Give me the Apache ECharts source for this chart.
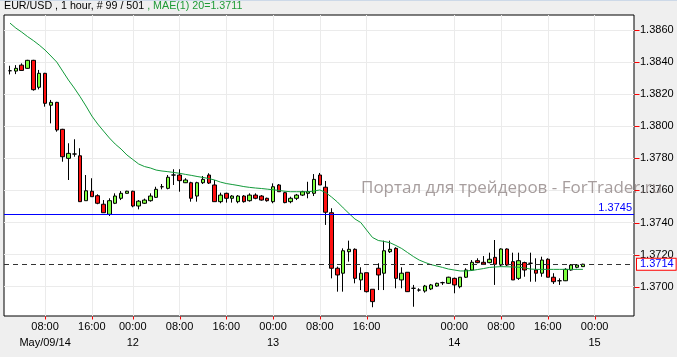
<!DOCTYPE html>
<html>
<head>
<meta charset="utf-8">
<script src="https://cdn.jsdelivr.net/npm/echarts@6/dist/echarts.min.js"></script>
<style>
html,body{margin:0;padding:0;background:#efefef;}
#chart{width:677px;height:357px;}
</style>
</head>
<body>
<div id="chart"></div>
<script>
// ---- data ----
var opens = [1.38346,1.38344,1.38381,1.38361,1.38411,1.38243,1.38330,1.38131,1.38149,1.37981,
1.37800,1.37827,1.37816,1.37536,1.37595,1.37567,1.37514,1.37451,1.37520,1.37551,
1.37582,1.37595,1.37503,1.37520,1.37536,1.37557,1.37623,1.37613,1.37696,1.37696,
1.37648,1.37648,1.37565,1.37648,1.37696,1.37634,1.37530,1.37582,1.37551,1.37530,
1.37565,1.37536,1.37571,1.37565,1.37551,1.37530,1.37634,1.37586,1.37530,1.37551,
1.37571,1.37582,1.37582,1.37696,1.37620,1.37461,1.37115,1.37084,1.37218,1.37233,
1.37042,1.37087,1.36984,1.37115,1.37084,1.37218,1.37239,1.37042,1.37090,1.36990,
1.36979,1.36973,1.36986,1.37004,1.37025,1.37021,1.37052,1.37000,1.37059,1.37104,
1.37162,1.37152,1.37150,1.37183,1.37135,1.37235,1.37156,1.37052,1.37150,1.37146,
1.37104,1.37084,1.37171,1.37059,1.37037,1.37037,1.37104,1.37121,1.37125];
var closes = [1.38346,1.38361,1.38348,1.38411,1.38228,1.38330,1.38143,1.38149,1.37977,1.37810,
1.37831,1.37827,1.37530,1.37598,1.37561,1.37520,1.37461,1.37536,1.37565,1.37582,
1.37595,1.37503,1.37533,1.37540,1.37565,1.37607,1.37623,1.37682,1.37696,1.37661,
1.37665,1.37551,1.37648,1.37669,1.37646,1.37530,1.37571,1.37551,1.37565,1.37565,
1.37530,1.37571,1.37551,1.37540,1.37536,1.37623,1.37592,1.37524,1.37551,1.37571,
1.37592,1.37592,1.37669,1.37634,1.37464,1.37115,1.37073,1.37224,1.37233,1.37052,
1.37084,1.36969,1.36907,1.37073,1.37224,1.37233,1.37052,1.37084,1.36969,1.36990,
1.36979,1.37004,1.37011,1.37021,1.37025,1.37059,1.37011,1.37059,1.37104,1.37152,
1.37150,1.37141,1.37171,1.37140,1.37235,1.37135,1.37042,1.37162,1.37104,1.37146,
1.37084,1.37166,1.37059,1.37031,1.37037,1.37108,1.37135,1.37135,1.37140];
var lows = [1.38323,1.38325,1.38348,1.38358,1.38222,1.38230,1.38122,1.38018,1.37966,1.37779,
1.37665,1.37810,1.37530,1.37536,1.37561,1.37514,1.37461,1.37441,1.37515,1.37540,
1.37580,1.37495,1.37482,1.37516,1.37530,1.37553,1.37607,1.37607,1.37634,1.37592,
1.37646,1.37530,1.37530,1.37640,1.37640,1.37530,1.37520,1.37524,1.37524,1.37520,
1.37524,1.37530,1.37545,1.37536,1.37530,1.37520,1.37592,1.37520,1.37520,1.37540,
1.37565,1.37551,1.37565,1.37634,1.37385,1.37052,1.36969,1.36969,1.37156,1.37021,
1.36979,1.36964,1.36872,1.36979,1.36979,1.37210,1.36990,1.36990,1.36967,1.36875,
1.36969,1.36963,1.36979,1.37000,1.37011,1.37017,1.36959,1.36990,1.37054,1.37098,
1.37146,1.37135,1.37146,1.37011,1.37125,1.37129,1.37042,1.37042,1.37062,1.37031,
1.37031,1.37062,1.37059,1.37017,1.37011,1.37035,1.37100,1.37115,1.37123];
var highs = [1.38377,1.38381,1.38392,1.38414,1.38414,1.38351,1.38333,1.38164,1.38152,1.37984,
1.37894,1.37919,1.37863,1.37696,1.37676,1.37576,1.37540,1.37551,1.37582,1.37596,
1.37598,1.37598,1.37540,1.37549,1.37582,1.37623,1.37640,1.37696,1.37732,1.37732,
1.37676,1.37654,1.37654,1.37690,1.37707,1.37665,1.37586,1.37586,1.37571,1.37571,
1.37571,1.37582,1.37582,1.37571,1.37555,1.37644,1.37640,1.37592,1.37561,1.37578,
1.37598,1.37654,1.37702,1.37709,1.37659,1.37489,1.37125,1.37239,1.37287,1.37239,
1.37121,1.37087,1.36984,1.37146,1.37287,1.37287,1.37246,1.37121,1.37090,1.37011,
1.36990,1.37011,1.37017,1.37025,1.37031,1.37062,1.37057,1.37060,1.37115,1.37166,
1.37177,1.37191,1.37212,1.37291,1.37239,1.37239,1.37212,1.37212,1.37156,1.37212,
1.37177,1.37187,1.37177,1.37084,1.37052,1.37115,1.37141,1.37141,1.37143];
var maValues = [1.38643,1.38612,1.38587,1.38559,1.38534,1.38506,1.38475,1.38438,1.38400,1.38344,
1.38288,1.38238,1.38184,1.38126,1.38064,1.38014,1.37970,1.37927,1.37889,1.37858,
1.37821,1.37793,1.37765,1.37749,1.37740,1.37727,1.37721,1.37717,1.37712,1.37707,
1.37700,1.37694,1.37687,1.37681,1.37674,1.37665,1.37652,1.37643,1.37637,1.37631,
1.37624,1.37619,1.37615,1.37612,1.37608,1.37604,1.37600,1.37595,1.37592,1.37592,
1.37592,1.37592,1.37596,1.37603,1.37587,1.37559,1.37528,1.37491,1.37456,1.37422,
1.37400,1.37353,1.37307,1.37288,1.37282,1.37274,1.37257,1.37238,1.37213,1.37188,
1.37166,1.37151,1.37138,1.37129,1.37120,1.37110,1.37104,1.37098,1.37098,1.37101,
1.37107,1.37113,1.37120,1.37123,1.37125,1.37124,1.37123,1.37121,1.37117,1.37110,
1.37108,1.37108,1.37108,1.37108,1.37108,1.37108,1.37108,1.37108,1.37108];
var xTickIndex = [6,14,21,29,37,45,53,61,76,84,92,100];
var xTimeLabels = ['08:00','16:00','00:00','08:00','16:00','00:00','08:00','16:00','00:00','08:00','16:00','00:00'];
var xDateLabels = ['May/09/14','','12','','','13','','','14','','','15'];
var yTicks = [1.3700,1.3720,1.3740,1.3760,1.3780,1.3800,1.3820,1.3840,1.3860];
var levelLine = 1.3745;
var lastPrice = 1.3714;
var headerMain = 'EUR/USD , 1 hour, # 99 / 501 ';
var headerMA = ', MAE(1) 20=1.3711';
var watermark = 'Портал для трейдеров - ForTrader.ru';

// ---- build ----
var candles = opens.map(function(o,i){ return [i, o, closes[i], lows[i], highs[i]]; });
var maLine = maValues.map(function(v,i){ return [i, v]; });
var labelMap = {};
xTickIndex.forEach(function(v,i){
  labelMap[v] = xTimeLabels[i] + (xDateLabels[i] ? '\n' + xDateLabels[i] : '');
});

var FONT = "'Liberation Sans', Arial, sans-serif";
var chart = echarts.init(document.getElementById('chart'), null, {renderer:'canvas'});
chart.setOption({
  backgroundColor: '#efefef',
  animation: false,
  title: [{
    left: 4, top: 1, padding: 0,
    text: '{a|' + headerMain + '}{b|' + headerMA + '}',
    textStyle: {
      fontFamily: FONT, fontSize: 10.7, fontWeight: 'normal',
      rich: {
        a: {color:'#000000', fontFamily: FONT, fontSize: 10.7},
        b: {color:'#1e9a36', fontFamily: FONT, fontSize: 10.7}
      }
    }
  }, {
    left: 361, top: 180, padding: 0, z: 50, zlevel: 1,
    text: watermark,
    textStyle: {fontFamily: "'Open Sans', sans-serif", fontSize: 17, fontWeight: 'normal', color: 'rgba(150,140,140,0.85)',
                width: 330, overflow: 'none'}
  }],
  grid: {
    left: 4, top: 15, width: 630, height: 301,
    show: true, backgroundColor: '#ffffff', borderColor: '#000000', borderWidth: 1,
    containLabel: false, outerBoundsMode: 'none'
  },
  xAxis: {
    type: 'value', min: -1.026, max: 106.74,
    axisLine: {show: false, onZero: false},
    axisTick: {show: false, customValues: xTickIndex},
    axisLabel: {
      show: true, customValues: xTickIndex, margin: 3,
      formatter: function(v){ return labelMap[v] || ''; },
      fontFamily: FONT, fontSize: 11, color: '#000', lineHeight: 16, verticalAlign: 'top'
    },
    splitLine: {show: true, lineStyle: {color: '#ebebeb', width: 1}}
  },
  yAxis: {
    type: 'value', position: 'right', min: 1.368173, max: 1.386935, scale: true,
    axisLine: {show: false, onZero: false},
    axisTick: {show: false, customValues: yTicks},
    axisLabel: {
      show: true, customValues: yTicks, margin: 6,
      formatter: function(v){ return v.toFixed(4); },
      fontFamily: FONT, fontSize: 11, color: '#000'
    },
    splitLine: {show: true, lineStyle: {color: '#ebebeb', width: 1}}
  },
  series: [
    {
      type: 'candlestick', data: candles, barWidth: 4,
      itemStyle: {color: '#7fff3f', color0: '#ff1010', borderColor: '#000', borderColor0: '#000', borderColorDoji: '#000', borderWidth: 1}
    },
    {
      type: 'line', data: maLine, showSymbol: false, symbol: 'none',
      lineStyle: {color: '#129a3a', width: 1}, z: 3,
      markLine: {
        symbol: 'none', silent: true, animation: false, precision: 4,
        data: [
          {yAxis: levelLine, lineStyle: {color:'#0000ff', type:'solid', width:1},
           label: {show:true, position:'insideEndTop', distance:[2,1], formatter: levelLine.toFixed(4), color:'#0000ff', fontFamily: FONT, fontSize:11}},
          {yAxis: lastPrice, lineStyle: {color:'#333333', type:[5,4], width:1},
           label: {show:true, position:'end', distance:3, formatter: lastPrice.toFixed(4), color:'#0000ff', fontFamily: FONT, fontSize:11,
                   backgroundColor:'#ffffff', borderColor:'#ff0000', borderWidth:1, padding:[0,2,0,3], lineHeight:11}}
        ]
      }
    }
  ]
});

// red tick marks outside the frame, placed through the chart's own axis scales
var gridRect = {left: 4, top: 15, width: 630, height: 301};
var tickEls = [{type:'rect', shape:{x:0,y:0,width:677,height:1}, style:{fill:'#cdd9e8'}, silent:true}];
yTicks.forEach(function(v){
  var py = Math.round(chart.convertToPixel({yAxisIndex: 0}, v)) + 0.5;
  var px = gridRect.left + gridRect.width + 0.5;
  tickEls.push({type:'line', silent:true, zlevel:1, z:60,
    shape:{x1:px, y1:py, x2:px + 5, y2:py}, style:{stroke:'#ff0000', lineWidth:1}});
});
xTickIndex.forEach(function(v){
  var px = Math.round(chart.convertToPixel({xAxisIndex: 0}, v)) + 0.5;
  var py = gridRect.top + gridRect.height + 0.5;
  tickEls.push({type:'line', silent:true, zlevel:1, z:60,
    shape:{x1:px, y1:py, x2:px, y2:py + 3}, style:{stroke:'#ff0000', lineWidth:1}});
});
chart.setOption({graphic: tickEls});
</script>
</body>
</html>
